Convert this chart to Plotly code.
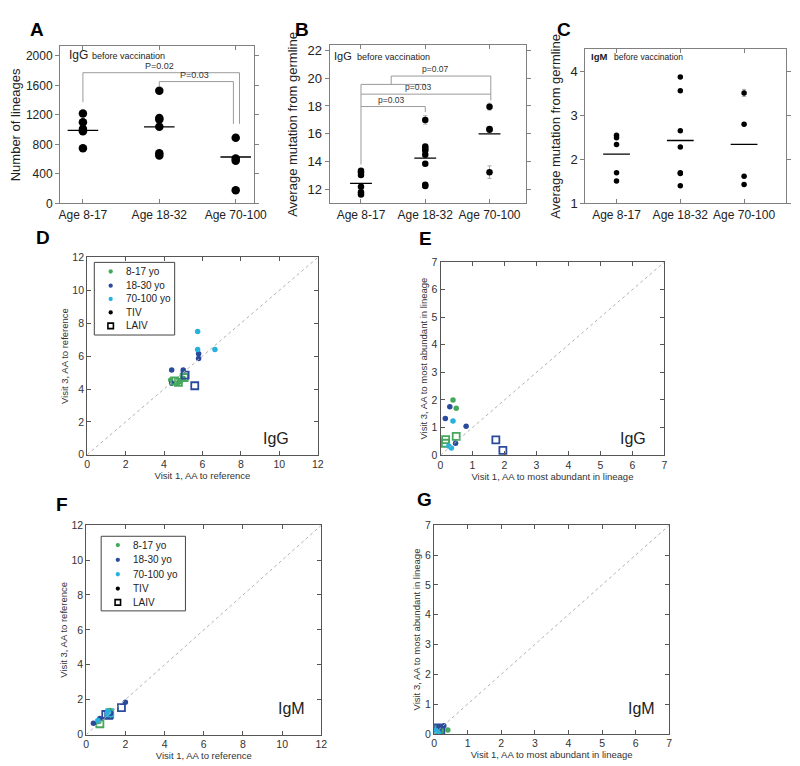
import plotly.graph_objects as go

W, H = 800, 766

# ---------------- data ----------------
groups = ["Age 8-17", "Age 18-32", "Age 70-100"]

# Panel A: number of lineages (IgG, before vaccination)
a_8_17 = [1220, 1100, 1010, 980, 750]
a_18_32 = [1530, 1160, 1140, 1040, 680, 650]
a_70_100 = [890, 610, 580, 180]
a_medians = [990, 1040, 630]

# Panel B: average mutation from germline (IgG)
b_8_17 = [13.35, 13.25, 13.05, 12.2, 11.8, 11.65]
b_8_17_err = [0.12, 0.12, 0.12, 0.1, 0.12, 0.1]
b_18_32 = [17.0, 15.1, 14.95, 14.8, 14.5, 13.85, 12.35, 12.25]
b_18_32_err = [0.3, 0.12, 0.12, 0.12, 0.12, 0.12, 0.12, 0.12]
b_70_100 = [17.95, 16.35, 16.3, 13.25]
b_70_100_err = [0.25, 0.12, 0.12, 0.45]
b_medians = [12.45, 14.25, 16.0]

# Panel C: average mutation from germline (IgM)
c_8_17 = [2.55, 2.49, 2.34, 1.70, 1.51]
c_18_32 = [3.87, 3.56, 2.65, 2.28, 1.70, 1.68, 1.40]
c_70_100 = [3.51, 2.80, 1.62, 1.43]
c_70_100_err = [0.08, 0.02, 0.02, 0.02]
c_medians = [2.12, 2.43, 2.34]

# Panel D: IgG, visit 1 vs visit 3, AA to reference
d_tiv_817_x = [4.35, 4.75, 4.85, 5.0]
d_tiv_817_y = [4.55, 4.40, 4.50, 4.65]
d_tiv_1830_x = [4.4, 5.0, 5.8, 5.8, 4.4]
d_tiv_1830_y = [5.15, 5.15, 6.15, 5.85, 4.35]
d_tiv_70_x = [5.75, 5.75, 6.65]
d_tiv_70_y = [7.5, 6.4, 6.4]
d_laiv_817_x = [4.55, 4.75, 5.05]
d_laiv_817_y = [4.5, 4.4, 4.7]
d_laiv_1830_x = [5.1, 5.6]
d_laiv_1830_y = [4.85, 4.2]

# Panel E: IgG, AA to most abundant in lineage
e_tiv_817_x = [0.39, 0.49]
e_tiv_817_y = [2.0, 1.70]
e_tiv_1830_x = [0.29, 0.15, 0.80, 0.47]
e_tiv_1830_y = [1.75, 1.33, 1.05, 0.43]
e_tiv_70_x = [0.39, 0.26, 0.34]
e_tiv_70_y = [1.24, 0.33, 0.26]
e_laiv_817_x = [0.49, 0.16, 0.15]
e_laiv_817_y = [0.68, 0.56, 0.43]
e_laiv_1830_x = [1.73, 1.95]
e_laiv_1830_y = [0.55, 0.17]

# Panel F: IgM, AA to reference
f_tiv_817_x = [1.2, 0.65]
f_tiv_817_y = [1.38, 0.75]
f_tiv_1830_x = [0.37, 0.7, 1.25, 2.0]
f_tiv_1830_y = [0.65, 0.92, 1.22, 1.85]
f_tiv_70_x = [0.6, 1.1, 1.15]
f_tiv_70_y = [0.8, 1.25, 1.3]
f_laiv_817_x = [0.7, 1.2]
f_laiv_817_y = [0.62, 1.15]
f_laiv_1830_x = [1.0, 1.8, 1.15]
f_laiv_1830_y = [1.15, 1.55, 1.1]
f_laiv_70_x = [1.2]
f_laiv_70_y = [1.25]

# Panel G: IgM, AA to most abundant in lineage
g_tiv_817_x = [0.41, 0.05]
g_tiv_817_y = [0.13, 0.05]
g_tiv_1830_x = [0.29, 0.15, 0.1]
g_tiv_1830_y = [0.27, 0.22, 0.1]
g_tiv_70_x = [0.05, 0.12]
g_tiv_70_y = [0.12, 0.05]
g_laiv_817_x = [0.15]
g_laiv_817_y = [0.15]
g_laiv_1830_x = [0.1, 0.2]
g_laiv_1830_y = [0.2, 0.1]
g_laiv_70_x = [0.05]
g_laiv_70_y = [0.05]

legend_names = ["8-17 yo", "18-30 yo", "70-100 yo", "TIV", "LAIV"]

# ---------------- style ----------------
GREEN = "#46A85C"
BLUE = "#2A4A9C"
CYAN = "#27B2DE"
ARIAL = "Liberation Sans, Arial, sans-serif"
SMALL = "Liberation Sans, Arial, sans-serif"


def dx(x0, x1):
    return [x0 / W, x1 / W]


def dy(y0, y1):
    return [1 - y1 / H, 1 - y0 / H]


fig = go.Figure()


def dotplot(vals_list, med, xa, ya, msize, half, errs=None):
    for i, vals in enumerate(vals_list):
        kw = {}
        if errs is not None and errs[i] is not None:
            kw["error_y"] = dict(type="data", array=errs[i], color="#aaaaaa",
                                 thickness=1, width=2)
        fig.add_trace(go.Scatter(
            x=[i] * len(vals), y=vals, mode="markers",
            marker=dict(color="black", size=msize),
            xaxis=xa, yaxis=ya, showlegend=False, **kw))
        fig.add_trace(go.Scatter(
            x=[i - half, i + half], y=[med[i], med[i]], mode="lines",
            line=dict(color="black", width=1.3),
            xaxis=xa, yaxis=ya, showlegend=False))


dotplot([a_8_17, a_18_32, a_70_100], a_medians, "x", "y", 8.5, 0.2)
dotplot([b_8_17, b_18_32, b_70_100], b_medians, "x2", "y2", 6.5, 0.17,
        errs=[b_8_17_err, b_18_32_err, b_70_100_err])
dotplot([c_8_17, c_18_32, c_70_100], c_medians, "x3", "y3", 5.5, 0.21,
        errs=[None, None, c_70_100_err])


def scatter_panel(xa, ya, sets):
    for xs, ys, color, sym in sets:
        if sym == "circle":
            marker = dict(color=color, size=5.5, symbol="circle")
        else:
            marker = dict(color=color, size=7, symbol="square-open",
                          line=dict(width=1.8, color=color))
        fig.add_trace(go.Scatter(x=xs, y=ys, mode="markers", marker=marker,
                                 xaxis=xa, yaxis=ya, showlegend=False))


scatter_panel("x4", "y4", [
    (d_tiv_817_x, d_tiv_817_y, GREEN, "circle"),
    (d_tiv_1830_x, d_tiv_1830_y, BLUE, "circle"),
    (d_tiv_70_x, d_tiv_70_y, CYAN, "circle"),
    (d_laiv_817_x, d_laiv_817_y, GREEN, "square"),
    (d_laiv_1830_x, d_laiv_1830_y, BLUE, "square"),
])
scatter_panel("x5", "y5", [
    (e_laiv_817_x, e_laiv_817_y, GREEN, "square"),
    (e_laiv_1830_x, e_laiv_1830_y, BLUE, "square"),
    (e_tiv_817_x, e_tiv_817_y, GREEN, "circle"),
    (e_tiv_1830_x, e_tiv_1830_y, BLUE, "circle"),
    (e_tiv_70_x, e_tiv_70_y, CYAN, "circle"),
])
scatter_panel("x6", "y6", [
    (f_laiv_817_x, f_laiv_817_y, GREEN, "square"),
    (f_laiv_1830_x, f_laiv_1830_y, BLUE, "square"),
    (f_laiv_70_x, f_laiv_70_y, CYAN, "square"),
    (f_tiv_817_x, f_tiv_817_y, GREEN, "circle"),
    (f_tiv_1830_x, f_tiv_1830_y, BLUE, "circle"),
    (f_tiv_70_x, f_tiv_70_y, CYAN, "circle"),
])
scatter_panel("x7", "y7", [
    (g_laiv_817_x, g_laiv_817_y, GREEN, "square"),
    (g_laiv_1830_x, g_laiv_1830_y, BLUE, "square"),
    (g_laiv_70_x, g_laiv_70_y, CYAN, "square"),
    (g_tiv_817_x, g_tiv_817_y, GREEN, "circle"),
    (g_tiv_1830_x, g_tiv_1830_y, BLUE, "circle"),
    (g_tiv_70_x, g_tiv_70_y, CYAN, "circle"),
])

# ---------------- axes ----------------
def cat_axis(domain, rng, size):
    return dict(domain=domain, range=rng, tickmode="array", tickvals=[0, 1, 2],
                ticktext=groups, tickangle=0, showline=True, linecolor="#808080",
                linewidth=1, mirror="ticks", ticks="inside", ticklen=4,
                tickcolor="#808080", showgrid=False, zeroline=False,
                tickfont=dict(family=ARIAL, size=size, color="#222"))


def val_axis(domain, rng, dtick, title, size):
    return dict(domain=domain, range=rng, dtick=dtick, showline=True,
                linecolor="#808080", linewidth=1, mirror="ticks", ticks="outside",
                ticklen=4, tickcolor="#808080", showgrid=False, zeroline=False,
                tickfont=dict(family=ARIAL, size=size, color="#222"),
                title=dict(text=title, font=dict(family=ARIAL, size=13, color="#222"),
                           standoff=6))


def sq_axis(domain, rng, dtick, title):
    return dict(domain=domain, range=rng, dtick=dtick, showline=True,
                linecolor="#555", linewidth=1, mirror="ticks", ticks="inside",
                ticklen=4, tickcolor="#555", showgrid=False, zeroline=False,
                tickfont=dict(family=SMALL, size=10.5, color="#333"),
                title=dict(text=title, font=dict(family=SMALL, size=9.5, color="#333"),
                           standoff=2))


layout = dict(
    width=W, height=H, margin=dict(l=0, r=0, t=0, b=0),
    paper_bgcolor="white", plot_bgcolor="white", showlegend=False,
    xaxis=cat_axis(dx(50, 248), [-0.3, 2.24], 12),
    yaxis=val_axis(dy(33, 193), [0, 2130], 400, "Number of lineages", 12),
    xaxis2=cat_axis(dx(325, 525), [-0.49, 2.56], 12),
    yaxis2=val_axis(dy(32, 193), [11, 22.35], 2, "Average mutation from germline", 13),
    xaxis3=cat_axis(dx(586, 791), [-0.49, 2.66], 12),
    yaxis3=val_axis(dy(36, 193), [1, 4.5], 1, "Average mutation from germline", 13),
    xaxis4=sq_axis(dx(77.7, 313), [0, 12], 2, "Visit 1, AA to reference"),
    yaxis4=sq_axis(dy(248, 449), [0, 12], 2, "Visit 3, AA to reference"),
    xaxis5=sq_axis(dx(438.3, 666.7), [0, 7], 1, "Visit 1, AA to most abundant in lineage"),
    yaxis5=sq_axis(dy(252.7, 449.3), [0, 7], 1, "Visit 3, AA to most abundant in lineage"),
    xaxis6=sq_axis(dx(76.7, 316.7), [0, 12], 2, "Visit 1, AA to reference"),
    yaxis6=sq_axis(dy(520.7, 734), [0, 12], 2, "Visit 3, AA to reference"),
    xaxis7=sq_axis(dx(431.7, 671.7), [0, 7], 1, "Visit 1, AA to most abundant in lineage"),
    yaxis7=sq_axis(dy(520.7, 733.3), [0, 7], 1, "Visit 3, AA to most abundant in lineage"),
)
for i in range(2, 8):
    layout[f"xaxis{i}"]["anchor"] = f"y{i}"
    layout[f"yaxis{i}"]["anchor"] = f"x{i}"
layout["xaxis"]["anchor"] = "y"
layout["yaxis"]["anchor"] = "x"

fig.update_layout(**layout)

# ---------------- shapes (brackets, diagonals) ----------------
GRAY = "#9a9a9a"
def seg(xref, yref, x0, y0, x1, y1, color=GRAY, dash=None, width=1):
    fig.add_shape(type="line", xref=xref, yref=yref, x0=x0, y0=y0, x1=x1, y1=y1,
                  line=dict(color=color, width=width, dash=dash))

# A brackets
seg("x", "y", 0, 1373, 0, 1773)
seg("x", "y", 0, 1773, 2.05, 1773)
seg("x", "y", 2.05, 1773, 2.05, 1080)
seg("x", "y", 1, 1587, 1, 1653)
seg("x", "y", 1, 1653, 1.97, 1653)
seg("x", "y", 1.97, 1653, 1.97, 1080)

# B brackets
seg("x2", "y2", 0, 13.8, 0, 19.55)
seg("x2", "y2", 0, 17.96, 1, 17.96)
seg("x2", "y2", 1, 17.96, 1, 17.56)
seg("x2", "y2", 0, 18.85, 2.02, 18.85)
seg("x2", "y2", 2.02, 20.15, 2.02, 18.4)
seg("x2", "y2", 0, 19.55, 1, 19.55)
seg("x2", "y2", 1, 19.55, 1, 19.35)
seg("x2", "y2", 0.47, 19.55, 0.47, 20.15)
seg("x2", "y2", 0.47, 20.15, 2.02, 20.15)

# diagonals
for xa, ya, m in [("x4", "y4", 12), ("x5", "y5", 7), ("x6", "y6", 12), ("x7", "y7", 7)]:
    seg(xa, ya, 0, 0, m, m, color="#b0b0b0", dash="dot", width=1)

# ---------------- annotations ----------------
def ann(text, x, y, xref="paper", yref="paper", size=10, family=ARIAL,
        xanchor="center", yanchor="middle", color="#222", bold=False):
    if xref == "paper":
        x = x / W
    if yref == "paper":
        y = 1 - y / H
    fig.add_annotation(text=f"<b>{text}</b>" if bold else text, x=x, y=y,
                       xref=xref, yref=yref, showarrow=False,
                       xanchor=xanchor, yanchor=yanchor,
                       font=dict(size=size, family=family, color=color))

# ---------------- manual legends (D and F) ----------------
leg_styles = [(GREEN, "circle"), (BLUE, "circle"), (CYAN, "circle"),
              ("black", "circle"), ("black", "square")]


def draw_legend(x0, y0, x1, y1, mx, tx, rows):
    fig.add_shape(type="rect", xref="paper", yref="paper",
                  x0=x0 / W, x1=x1 / W, y0=1 - y1 / H, y1=1 - y0 / H,
                  line=dict(color="#444", width=1), fillcolor="white", layer="above")
    for name, (col, sym), ry in zip(legend_names, leg_styles, rows):
        if sym == "circle":
            r = 2.2
            fig.add_shape(type="circle", xref="paper", yref="paper",
                          x0=(mx - r) / W, x1=(mx + r) / W,
                          y0=1 - (ry + r) / H, y1=1 - (ry - r) / H,
                          line=dict(color=col, width=0), fillcolor=col, layer="above")
        else:
            r = 2.8
            fig.add_shape(type="rect", xref="paper", yref="paper",
                          x0=(mx - r) / W, x1=(mx + r) / W,
                          y0=1 - (ry + r) / H, y1=1 - (ry - r) / H,
                          line=dict(color=col, width=1.6), fillcolor="white", layer="above")
        ann(name, tx, ry, size=10, family=SMALL, xanchor="left", color="#222")


draw_legend(85, 253, 167, 327, 101.7, 115, [262.3, 276.7, 290.3, 304, 317.7])
draw_legend(92, 532, 178, 608, 109, 122, [541, 556, 570.7, 585.3, 599.3])

# panel letters
for lab, x, y in [("A", 27, 16), ("B", 297, 16), ("C", 564, 16), ("D", 33, 228),
                  ("E", 423, 229), ("F", 52, 500), ("G", 422, 495)]:
    ann(lab, x, y, size=19, bold=True, color="black")

# in-panel labels
ann("IgG", 57, 42, size=12, xanchor="left")
ann("before vaccination", 81, 43, size=9, xanchor="left")
ann("IgG", 328, 43, size=11, xanchor="left")
ann("before vaccination", 351, 44, size=9, xanchor="left")
ann("<b>IgM</b>", 590, 43, size=9.5, xanchor="left", family=SMALL)
ann("before vaccination", 613, 44, size=8.5, xanchor="left", family=SMALL)

# p values
ann("P=0.02", 1.0, 1773, "x", "y", size=9, yanchor="bottom", color="#333")
ann("P=0.03", 1.46, 1653, "x", "y", size=9, yanchor="bottom", color="#333")
ann("p=0.07", 1.16, 20.15, "x2", "y2", size=8.5, yanchor="bottom", color="#333")
ann("p=0.03", 0.9, 18.85, "x2", "y2", size=8.5, yanchor="bottom", color="#333")
ann("p=0.03", 0.47, 17.96, "x2", "y2", size=8.5, yanchor="bottom", color="#333")

# isotype labels in scatter panels
ann("IgG", 270, 432, size=16, family=SMALL, color="#222")
ann("IgG", 635, 432, size=16, family=SMALL, color="#222")
ann("IgM", 286, 707, size=16, family=SMALL, color="#222")
ann("IgM", 643, 707, size=16, family=SMALL, color="#222")

fig.write_html("out.html")
